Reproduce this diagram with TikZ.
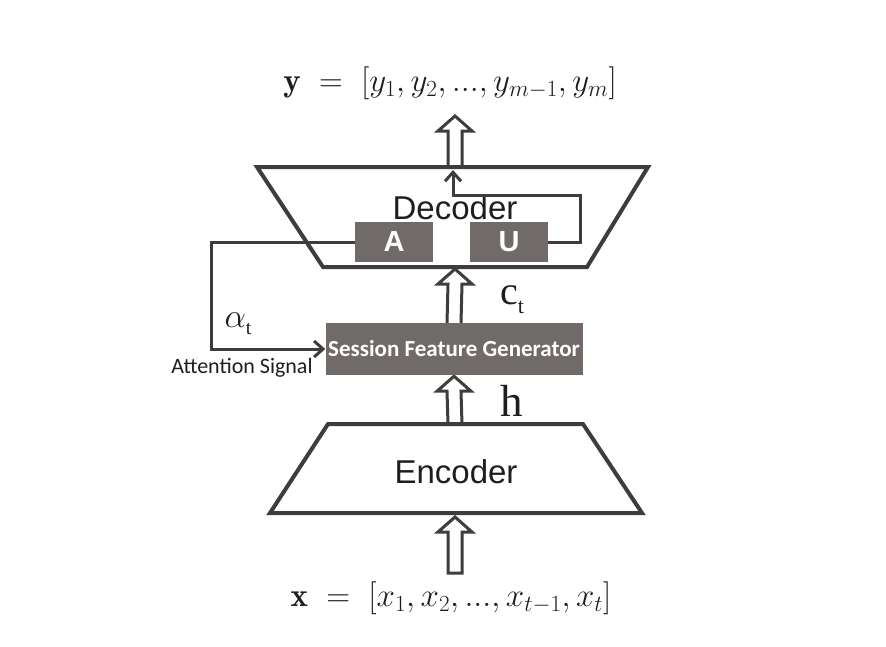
\RequirePackage{fix-cm}
\documentclass[tikz,border=0pt]{standalone}
\usepackage{fontspec}
\newfontfamily\arialf{Liberation Sans}
\newfontfamily\calibrif{Carlito}
\newfontfamily\timesf{Liberation Serif}
\usetikzlibrary{arrows.meta, shapes.geometric, calc, positioning, backgrounds}
\definecolor{linegray}{RGB}{62, 60, 60}
\definecolor{boxgray}{RGB}{112, 107, 105}
\definecolor{textgray}{RGB}{30, 30, 30}

\tikzset{
	coder/.style={draw=linegray, line width=4pt, line join=miter},
	unitbox/.style={fill=boxgray, minimum width=78pt, minimum height=40pt, inner sep=0pt,
		text=white, font=\arialf\bfseries\fontsize{29}{29}\selectfont},
	hollow/.style={draw=linegray, line width=3pt, fill=white, line join=miter},
	feedline/.style={draw=linegray, line width=3pt, -{Straight Barb[length=9pt,width=16pt]}},
	bigfont/.style={font=\arialf\fontsize{33}{33}\selectfont, text=textgray},
	formula/.style={font=\fontsize{33}{33}\selectfont, text=textgray},
}

% hollow block arrow from #2 (tail) up to #3 (tip)
\newcommand{\hollowup}[3][]{%
	\draw[hollow,#1] ($(#2)+(-7,0)$) -- ($(#3)+(-7,15)$) -- ($(#3)+(-17,15)$) -- (#3)
	-- ($(#3)+(17,15)$) -- ($(#3)+(7,15)$) -- ($(#2)+(7,0)$)}

\begin{document}
\begin{tikzpicture}[x=1pt,y=-1pt]
	\useasboundingbox (0,0) rectangle (886,646);
	
	\node[formula] (ylab) at (450,83) {$\mathbf{y} \;=\; [y_1, y_2, ..., y_{m-1}, y_m]$};
	\node[formula] (xlab) at (451,598) {$\mathbf{x} \;=\; [x_1, x_2, ..., x_{t-1}, x_t]$};
	
	% decoder
	\draw[coder] (257,167) -- (648,167) -- (587,267) -- (323,267) -- cycle;
	\coordinate (dectop) at (455,167);
	\coordinate (decbot) at (455,267);
	\node[bigfont] (declab) at (455,208) {Decoder};
	\node[unitbox] (A) at (394,242) {A};
	\node[unitbox] (U) at (509,242) {U};
	
	\node[fill=boxgray, minimum width=257pt, minimum height=52pt, inner sep=0pt, text=white,
	font=\calibrif\bfseries\fontsize{23}{23}\selectfont] (sfg) at (454,349) {Session Feature Generator};
	
	% encoder
	\draw[coder] (328,424) -- (583,424) -- (642,513) -- (270,513) -- cycle;
	\coordinate (enctop) at (455,424);
	\node[bigfont] (enc) at (456,472) {Encoder};
	
	\node[font=\timesf\fontsize{40}{40}\selectfont, text=textgray] (ct) at (512,300)
	{c\raisebox{-9pt}{\fontsize{22}{22}\selectfont t}};
	\node[font=\timesf\fontsize{45}{45}\selectfont, text=textgray] (h) at (512,401) {h};
	\node[font=\fontsize{34}{34}\selectfont, text=textgray] (alpha) at (238,324)
	{$\alpha$\raisebox{-7pt}{\timesf\fontsize{20}{20}\selectfont t}};
	\node[font=\calibrif\fontsize{22}{22}\selectfont, text=textgray] (att) at (242,368) {Attention Signal};
	
	\coordinate (ytip) at (455,116);
	\coordinate (xtail) at (455,573);
	\coordinate (xtip) at (455,517);
	
	% block arrows behind the boxes
	\begin{scope}[on background layer]
		\hollowup{dectop}{ytip};
		\hollowup{sfg.north}{$(decbot)+(0,2)$};
		\hollowup{enctop}{$(sfg.south)+(0,1)$};
		\hollowup{xtail}{xtip} -- cycle;
	\end{scope}
	
	% feedback and attention
	\draw[feedline] (U.east) -- ++(32,0) |- ($(dectop)+(-2,28)$) -- ($(dectop)+(-2,3)$);
	\draw[feedline] (A.west) -- ++(-143,0) |- (sfg.west);
\end{tikzpicture}
\end{document}
